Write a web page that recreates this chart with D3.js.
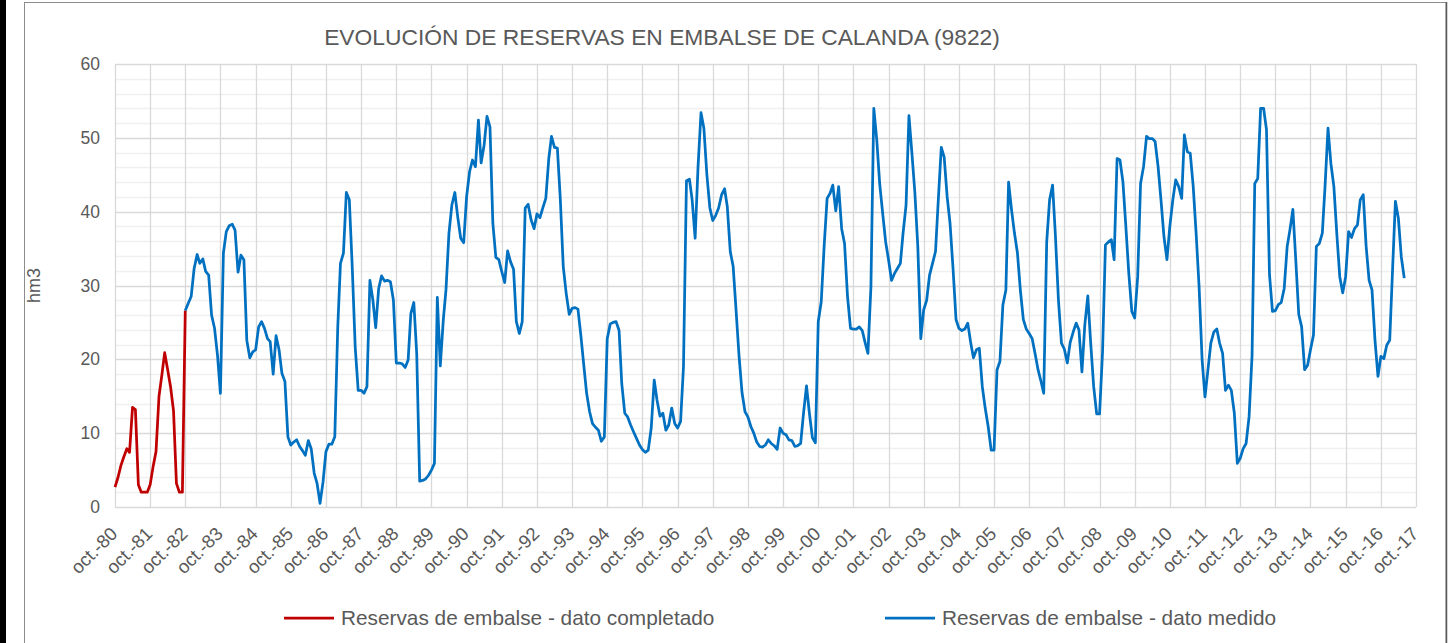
<!DOCTYPE html>
<html>
<head>
<meta charset="utf-8">
<script src="https://cdnjs.cloudflare.com/ajax/libs/d3/7.8.5/d3.min.js"></script>
<style>
  body { margin: 0; background: #fff; }
  svg { display: block; font-family: "Liberation Sans", Arial, sans-serif; }
</style>
</head>
<body>
<div id="chart"></div>
<script>

// Monthly reserves (hm3), dato completado: oct-80 .. oct-82
var completado = [2.7, 4.0, 5.6, 6.8, 7.9, 7.4, 13.5, 13.2, 3.0, 2.0, 2.0, 2.0, 3.0, 5.5, 7.5, 15.0,
    18.0, 20.9, 18.6, 16.3, 13.0, 3.2, 2.0, 2.0, 26.6];
var completadoStart = new Date(1980, 9, 1);

// Monthly reserves (hm3), dato medido: oct-82 onwards
var medido = [
    26.6, 27.6, 28.5, 32.3, 34.2, 33.0, 33.6, 31.9, 31.4, 26.0, 24.2, 20.5,
    15.4, 34.4, 37.3, 38.1, 38.3, 37.5, 31.8, 34.1, 33.5, 22.6, 20.2, 21.0,
    21.3, 24.4, 25.1, 24.2, 22.8, 22.4, 18.0, 23.2, 21.3, 18.1, 17.0, 9.5,
    8.4, 8.8, 9.1, 8.2, 7.6, 7.0, 9.0, 7.9, 4.6, 3.2, 0.5, 3.4,
    7.5, 8.5, 8.5, 9.5, 24.4, 33.0, 34.4, 42.6, 41.6, 32.6, 21.7, 15.8,
    15.8, 15.4, 16.3, 30.7, 28.0, 24.3, 29.6, 31.3, 30.6, 30.7, 30.5, 28.0,
    19.5, 19.5, 19.4, 18.9, 19.9, 26.2, 27.7, 20.8, 3.5, 3.6, 3.8, 4.3,
    5.0, 5.9, 28.4, 19.1, 25.3, 29.4, 37.1, 40.9, 42.6, 39.3, 36.4, 35.8,
    42.0, 45.4, 47.0, 46.1, 52.4, 46.6, 49.0, 52.9, 51.5, 38.4, 33.8, 33.5,
    31.9, 30.4, 34.7, 33.2, 32.2, 25.1, 23.5, 25.1, 40.5, 41.0, 38.9, 37.7,
    39.7, 39.2, 40.5, 41.8, 47.2, 50.2, 48.7, 48.6, 41.6, 32.6, 28.9, 26.1,
    26.9, 27.0, 26.8, 23.1, 19.0, 15.4, 12.9, 11.3, 10.8, 10.4, 8.9, 9.5,
    22.8, 24.8, 25.0, 25.1, 23.9, 16.7, 12.7, 12.2, 11.1, 10.2, 9.3, 8.4,
    7.8, 7.4, 7.7, 10.7, 17.2, 14.5, 12.3, 12.7, 10.4, 11.1, 13.4, 11.3,
    10.7, 11.6, 19.0, 44.2, 44.4, 41.6, 36.4, 46.0, 53.4, 51.3, 45.0, 40.5,
    38.8, 39.5, 40.5, 42.3, 43.1, 40.7, 34.6, 32.6, 26.5, 20.5, 15.5, 12.9,
    12.2, 10.9, 10.0, 8.8, 8.2, 8.1, 8.4, 9.1, 8.6, 8.3, 7.8, 10.7,
    10.0, 9.8, 9.1, 9.0, 8.2, 8.3, 8.6, 12.7, 16.4, 12.7, 9.4, 8.7,
    25.1, 27.8, 35.3, 41.8, 42.5, 43.6, 40.1, 43.4, 37.7, 35.7, 28.5, 24.2,
    24.1, 24.1, 24.4, 23.9, 22.2, 20.8, 29.8, 54.0, 49.7, 43.8, 39.8, 35.9,
    33.5, 30.7, 31.6, 32.3, 33.0, 37.1, 40.9, 53.0, 47.9, 42.7, 35.3, 22.8,
    26.7, 28.0, 31.4, 33.0, 34.6, 41.6, 48.7, 47.4, 42.0, 38.4, 32.3, 25.4,
    24.2, 23.9, 24.1, 24.9, 22.2, 20.2, 21.3, 21.5, 16.3, 13.4, 10.9, 7.7,
    7.7, 18.6, 19.7, 27.4, 29.4, 44.0, 40.2, 37.1, 34.4, 29.4, 25.4, 24.1,
    23.5, 22.8, 20.8, 18.6, 17.0, 15.4, 35.9, 41.6, 43.6, 36.6, 28.0, 22.2,
    21.4, 19.5, 22.3, 23.7, 24.9, 24.0, 18.3, 24.7, 28.6, 22.2, 16.3, 12.6,
    12.6, 21.0, 35.5, 35.9, 36.2, 33.5, 47.2, 47.0, 44.0, 38.0, 31.6, 26.5,
    25.6, 31.2, 43.8, 46.1, 50.2, 49.9, 49.9, 49.5, 46.1, 41.6, 36.6, 33.5,
    38.0, 41.6, 44.3, 43.4, 41.8, 50.4, 48.1, 47.9, 43.4, 37.1, 29.8, 20.0,
    14.9, 18.6, 22.2, 23.7, 24.1, 22.2, 20.8, 15.8, 16.5, 15.8, 12.7, 5.9,
    6.6, 7.9, 8.6, 12.2, 20.5, 43.8, 44.5, 54.0, 54.0, 51.1, 31.5, 26.5,
    26.6, 27.4, 27.7, 29.6, 35.3, 37.5, 40.3, 33.5, 26.1, 24.4, 18.6, 19.2,
    21.3, 23.3, 35.3, 35.7, 37.1, 43.4, 51.3, 46.5, 43.4, 37.1, 31.2, 29.0,
    31.2, 37.3, 36.5, 37.7, 38.2, 41.6, 42.3, 35.3, 30.7, 29.4, 22.6, 17.7,
    20.4, 20.1, 21.9, 22.6, 32.6, 41.4, 39.1, 33.9, 31.0
];
var medidoStart = new Date(1982, 9, 1);

// x axis tick labels, one per october
var tickLabels = ["oct.-80", "oct.-81", "oct.-82", "oct.-83", "oct.-84", "oct.-85", "oct.-86", "oct.-87",
    "oct.-88", "oct.-89", "oct.-90", "oct.-91", "oct.-92", "oct.-93", "oct.-94", "oct.-95", "oct.-96",
    "oct.-97", "oct.-98", "oct.-99", "oct.-00", "oct.-01", "oct.-02", "oct.-03", "oct.-04", "oct.-05",
    "oct.-06", "oct.-07", "oct.-08", "oct.-09", "oct.-10", "oct.-11", "oct.-12", "oct.-13", "oct.-14",
    "oct.-15", "oct.-16", "oct.-17"];
var yTicks = [0, 10, 20, 30, 40, 50, 60];

var width = 1450, height = 643;
var margin = {top: 64, right: 34, bottom: 136, left: 115};

var svg = d3.select("#chart").append("svg")
    .attr("width", width)
    .attr("height", height);

// frame
svg.append("rect").attr("x", 0).attr("y", 0).attr("width", 6).attr("height", height).attr("fill", "#000");
svg.append("rect")
    .attr("x", 24.5).attr("y", 2.5)
    .attr("width", 1446 - 24.5).attr("height", height + 10)
    .attr("fill", "#fff")
    .attr("stroke", "#8c8c8c");
svg.append("line").attr("x1", 1446.5).attr("x2", 1446.5).attr("y1", 2).attr("y2", height)
    .attr("stroke", "#595959").attr("stroke-width", 1.5);

// scales
var x = d3.scaleTime()
    .domain([new Date(1980, 9, 1), new Date(2017, 9, 1)])
    .range([margin.left, width - margin.right]);

var y = d3.scaleLinear()
    .domain([0, 60])
    .range([height - margin.bottom, margin.top]);

var tickDates = tickLabels.map(function(d, i) { return new Date(1980 + i, 9, 1); });

// minor horizontal grid every 2 hm3
svg.append("g")
    .selectAll("line")
    .data(d3.range(0, 61, 2).filter(function(d) { return d % 10 !== 0; }))
    .enter().append("line")
    .attr("x1", x.range()[0]).attr("x2", x.range()[1])
    .attr("y1", function(d) { return Math.round(y(d)) + 0.5; })
    .attr("y2", function(d) { return Math.round(y(d)) + 0.5; })
    .attr("stroke", "#f0f0f0")
    .attr("stroke-width", 1.3);

// major horizontal grid
svg.append("g")
    .selectAll("line")
    .data(yTicks)
    .enter().append("line")
    .attr("x1", x.range()[0]).attr("x2", x.range()[1])
    .attr("y1", function(d) { return Math.round(y(d)) + 0.5; })
    .attr("y2", function(d) { return Math.round(y(d)) + 0.5; })
    .attr("stroke", "#d9d9d9")
    .attr("stroke-width", 1.3);

// vertical grid, one per year
svg.append("g")
    .selectAll("line")
    .data(tickDates)
    .enter().append("line")
    .attr("x1", function(d) { return Math.round(x(d)) + 0.5; })
    .attr("x2", function(d) { return Math.round(x(d)) + 0.5; })
    .attr("y1", y(60)).attr("y2", y(0))
    .attr("stroke", "#d9d9d9")
    .attr("stroke-width", 1.3);

// y axis labels
var yAxis = svg.append("g")
    .attr("transform", "translate(" + (margin.left - 15) + ",0)")
    .call(d3.axisLeft(y).tickValues(yTicks).tickSize(0).tickPadding(0));
yAxis.select(".domain").remove();
yAxis.selectAll("text")
    .attr("fill", "#595959")
    .style("font-size", "17.5px")
    .style("font-family", "'Liberation Sans', Arial, sans-serif");

// x axis labels, rotated
var xAxis = svg.append("g")
    .attr("transform", "translate(0," + y(0) + ")")
    .call(d3.axisBottom(x).tickValues(tickDates).tickSize(0).tickPadding(0)
        .tickFormat(function(d, i) { return tickLabels[i]; }));
xAxis.select(".domain").remove();
xAxis.selectAll("text")
    .attr("fill", "#595959")
    .style("font-size", "18.5px")
    .style("font-family", "'Liberation Sans', Arial, sans-serif")
    .attr("text-anchor", "end")
    .attr("y", 0)
    .attr("dy", 0)
    .attr("transform", "translate(3,28) rotate(-45)");

// y axis title
svg.append("text")
    .attr("transform", "translate(40," + y(30) + ") rotate(-90)")
    .attr("text-anchor", "middle")
    .attr("fill", "#595959")
    .style("font-size", "18px")
    .text("hm3");

// title
svg.append("text")
    .attr("x", 662)
    .attr("y", 45)
    .attr("text-anchor", "middle")
    .attr("fill", "#595959")
    .style("font-size", "22.8px")
    .text("EVOLUCIÓN DE RESERVAS EN EMBALSE DE CALANDA (9822)");

// lines
var line = d3.line()
    .x(function(d) { return x(d.date); })
    .y(function(d) { return y(d.value); });

function toSeries(values, start) {
    return values.map(function(v, i) { return {date: d3.timeMonth.offset(start, i), value: v}; });
}

svg.append("path")
    .datum(toSeries(completado, completadoStart))
    .attr("fill", "none")
    .attr("stroke", "#c00000")
    .attr("stroke-width", 2.75)
    .attr("stroke-linejoin", "round")
    .attr("d", line);

svg.append("path")
    .datum(toSeries(medido, medidoStart))
    .attr("fill", "none")
    .attr("stroke", "#0070c0")
    .attr("stroke-width", 2.75)
    .attr("stroke-linejoin", "round")
    .attr("d", line);

// legend
var legend = [
    {label: "Reservas de embalse - dato completado", color: "#c00000", x: 284},
    {label: "Reservas de embalse - dato medido", color: "#0070c0", x: 885}
];
var lg = svg.append("g").selectAll("g")
    .data(legend)
    .enter().append("g")
    .attr("transform", function(d) { return "translate(" + d.x + ",618)"; });
lg.append("line")
    .attr("x1", 0).attr("x2", 50)
    .attr("stroke", function(d) { return d.color; })
    .attr("stroke-width", 2.75);
lg.append("text")
    .attr("x", 57)
    .attr("dy", "0.35em")
    .attr("fill", "#595959")
    .style("font-size", "20.8px")
    .text(function(d) { return d.label; });

</script>
</body>
</html>
